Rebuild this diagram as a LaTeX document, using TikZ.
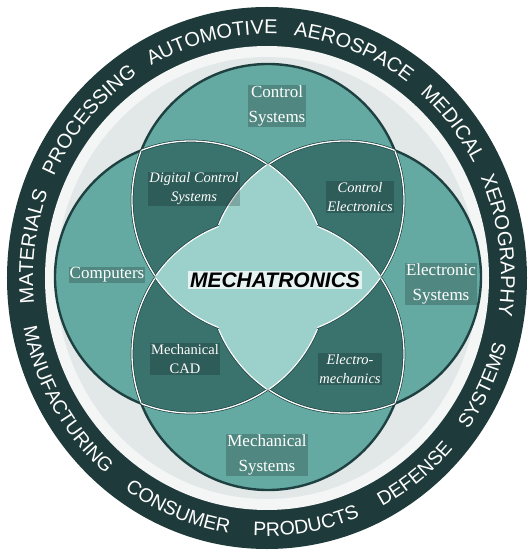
\documentclass[tikz,border=0pt]{standalone}
\usepackage{fontspec}
\setmainfont{Liberation Serif}
\newfontfamily\bandfont{Liberation Sans}
\usepackage{xcolor}
\usetikzlibrary{decorations.text}

\definecolor{bandcol}{HTML}{1F3A3A}
\definecolor{ringwhite}{HTML}{F4F6F6}
\definecolor{ringcol}{HTML}{E1E8E7}
\definecolor{singlecol}{HTML}{64AAA2}
\definecolor{paircol}{HTML}{3A736E}
\definecolor{corecol}{HTML}{9CD0CB}
\definecolor{edgecol}{HTML}{1E4040}

\tikzset{
  edgeline/.style={draw=edgecol, line width=2.4pt},
  innerline/.style={draw=edgecol, double=white, double distance=1.3pt, line width=0.5pt},
  starrim/.style={draw=edgecol, double=white, double distance=2.6pt, line width=0.7pt},
  biglbl/.style={text=white, align=center, font=\fontsize{17}{25}\selectfont,
    fill=black, fill opacity=0.2, text opacity=1, inner sep=1pt},
  pairlbl/.style={biglbl, font=\fontsize{14.5}{19}\selectfont},
  corelbl/.style={text=black, font=\bandfont\bfseries\itshape\fontsize{21}{21}\selectfont,
    fill=white, fill opacity=0.75, text opacity=1, inner sep=2pt},
  bandtext/.style={decorate, decoration={text along path, text={#1},
    text align={fit to path stretching spaces}, text color=white}}
}

\begin{document}
\begin{tikzpicture}[x=1pt, y=1pt]
  \useasboundingbox (-268,-274) rectangle (264,277);
  \fill[white] (-268,-274) rectangle (264,277);

  \fill[bandcol] (-1,-1) ellipse[x radius=260, y radius=271];
  \fill[ringwhite] (-1,-1) ellipse[x radius=222, y radius=232];
  \fill[ringcol] (-1,-1) ellipse[x radius=211, y radius=221];

  \coordinate (T) at (0,77);
  \coordinate (B) at (0,-77);
  \coordinate (L) at (-77,0);
  \coordinate (R) at (77,0);

  \foreach \c in {T,B,L,R}
    \fill[singlecol] (\c) circle[radius=136];

  \begin{scope}
    \clip (T) circle[radius=136] (B) circle[radius=136];
    \fill[paircol] (L) circle[radius=136] (R) circle[radius=136];
  \end{scope}

  \foreach \c in {T,B,L,R}
    \draw[edgeline] (\c) circle[radius=136];

  \begin{scope}
    \clip (L) circle[radius=136] (R) circle[radius=136];
    \draw[innerline] (T) circle[radius=136] (B) circle[radius=136];
  \end{scope}
  \begin{scope}
    \clip (T) circle[radius=136] (B) circle[radius=136];
    \draw[innerline] (L) circle[radius=136] (R) circle[radius=136];
  \end{scope}

  \foreach \a/\b in {L/R, R/L, T/B, B/T} {
    \begin{scope}
      \clip (\a) circle[radius=136];
      \draw[starrim] (\b) circle[radius=136];
    \end{scope}
  }
  \foreach \a/\b in {L/R, T/B} {
    \begin{scope}
      \clip (\a) circle[radius=136];
      \fill[corecol] (\b) circle[radius=136];
    \end{scope}
  }

  \node[biglbl] (ctrlsys) at (9,171) {Control\\Systems};
  \node[pairlbl] (digctrl) at (-74,88) {\itshape Digital Control\\\itshape Systems};
  \node[pairlbl] (ctrlelec) at (92,80) {\itshape Control\\\itshape Electronics};
  \node[biglbl] (comp) at (-161,2) {Computers};
  \node[corelbl] (mecha) at (7,-3) {MECHATRONICS};
  \node[biglbl] (elecsys) at (173,-7) {Electronic\\Systems};
  \node[pairlbl] (mechcad) at (-83,-82) {Mechanical\\CAD};
  \node[pairlbl] (elmech) at (82,-92) {\itshape Electro-\\\itshape mechanics};
  \node[biglbl] (mechsys) at (-1,-178) {Mechanical\\Systems};

  \path[bandtext={|\bandfont\fontsize{20}{20}\selectfont|MATERIALS PROCESSING AUTOMOTIVE AEROSPACE MEDICAL XEROGRAPHY}]
    (-1,-1) ++(186:234 and 244) arc[start angle=186, end angle=-9, x radius=234, y radius=244];
  \path[bandtext={|\bandfont\fontsize{19.5}{20}\selectfont|MANUFACTURING CONSUMER PRODUCTS DEFENSE SYSTEMS}]
    (-1,-1) ++(191:248 and 258) arc[start angle=191, end angle=345, x radius=248, y radius=258];
\end{tikzpicture}
\end{document}
